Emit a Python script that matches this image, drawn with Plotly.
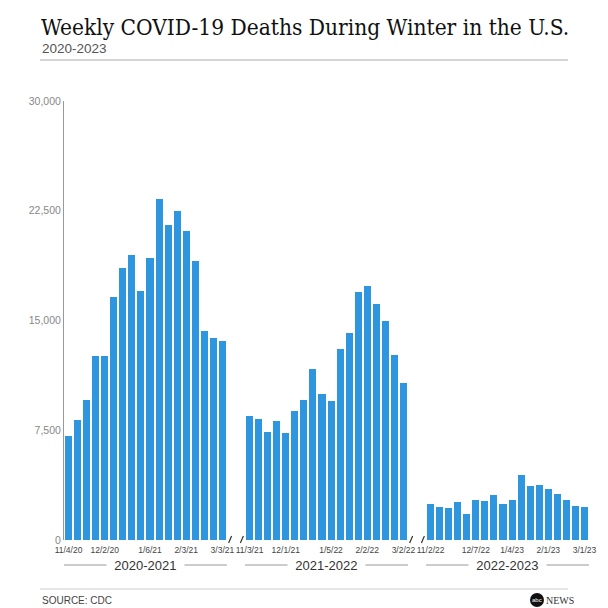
import plotly.graph_objects as go

# ---- data ----
season_names = ["2020-2021", "2021-2022", "2022-2023"]
dates_2020 = ["11/4/20", "11/11/20", "11/18/20", "11/25/20", "12/2/20", "12/9/20", "12/16/20", "12/23/20", "12/30/20",
              "1/6/21", "1/13/21", "1/20/21", "1/27/21", "2/3/21", "2/10/21", "2/17/21", "2/24/21", "3/3/21"]
deaths_2020 = [7100, 8200, 9550, 12550, 12550, 16600, 18600, 19450, 17000,
               19300, 23300, 21500, 22450, 21150, 19100, 14300, 13800, 13600]
dates_2021 = ["11/3/21", "11/10/21", "11/17/21", "11/24/21", "12/1/21", "12/8/21", "12/15/21", "12/22/21", "12/29/21",
              "1/5/22", "1/12/22", "1/19/22", "1/26/22", "2/2/22", "2/9/22", "2/16/22", "2/23/22", "3/2/22"]
deaths_2021 = [8500, 8250, 7400, 8100, 7300, 8850, 9600, 11700, 9980,
               9480, 13080, 14170, 16970, 17340, 16150, 14990, 12650, 10710]
dates_2022 = ["11/2/22", "11/9/22", "11/16/22", "11/23/22", "11/30/22", "12/7/22", "12/14/22", "12/21/22", "12/28/22",
              "1/4/23", "1/11/23", "1/18/23", "1/25/23", "2/1/23", "2/8/23", "2/15/23", "2/22/23", "3/1/23"]
deaths_2022 = [2460, 2280, 2190, 2620, 1780, 2760, 2670, 3050, 2480,
               2760, 4420, 3670, 3740, 3460, 3120, 2760, 2350, 2260]
labeled_dates = ["11/4/20", "12/2/20", "1/6/21", "2/3/21", "3/3/21",
                 "11/3/21", "12/1/21", "1/5/22", "2/2/22", "3/2/22",
                 "11/2/22", "12/7/22", "1/4/23", "2/1/23", "3/1/23"]
y_ticks = [0, 7500, 15000, 22500, 30000]

seasons = [(dates_2020, deaths_2020), (dates_2021, deaths_2021), (dates_2022, deaths_2022)]
GAP = 2  # empty slots between seasons

# ---- layout geometry ----
W, H = 608, 608
ML, MR, MT, MB = 64, 19, 101, 68
PW, PH = W - ML - MR, H - MT - MB

def px(x):
    return (x - ML) / PW

def py(y):
    return (H - MB - y) / PH

BLUE = "#2D96DE"
SANS = "Liberation Sans, Arial, sans-serif"
NB = "\u00a0"

fig = go.Figure()
xs_all, dates_all, vals_all = [], [], []
spans = []
pos = 0
for dates, vals in seasons:
    xs = list(range(pos, pos + len(dates)))
    spans.append((xs[0] - 0.5, xs[-1] + 0.5))
    xs_all += xs
    dates_all += dates
    vals_all += vals
    pos += len(dates) + GAP

fig.add_trace(go.Bar(x=xs_all, y=vals_all, marker=dict(color=BLUE, line=dict(width=0)),
                     width=0.78, customdata=dates_all,
                     hovertemplate="%{customdata}: %{y:,}<extra></extra>"))

tickvals = [xs_all[dates_all.index(d)] for d in labeled_dates]
n_slots = xs_all[-1] + 1
slot_px = PW / n_slots

def slot_to_paper(s):
    return px(ML + (s + 0.5) * slot_px)

shapes = []
annotations = []

# title block
annotations.append(dict(text="Weekly COVID-19 Deaths During Winter in the U.S.", x=px(39), y=py(27),
                        xref="paper", yref="paper", xanchor="left", yanchor="middle", showarrow=False,
                        font=dict(family="DejaVu Serif Condensed, Liberation Serif, serif", size=22.5, color="#111")))
annotations.append(dict(text="2020-2023", x=px(40), y=py(48), xref="paper", yref="paper",
                        xanchor="left", yanchor="middle", showarrow=False,
                        font=dict(family=SANS, size=13.5, color="#555")))
shapes.append(dict(type="line", xref="paper", yref="paper", x0=px(40), x1=px(568), y0=py(60), y1=py(60),
                   line=dict(color="#aaa", width=1)))

# season labels with lines
for (a, b), name in zip(spans, season_names):
    x0 = slot_to_paper(a)
    x1 = slot_to_paper(b)
    shapes.append(dict(type="line", xref="paper", yref="paper", x0=x0, x1=x1, y0=py(565), y1=py(565),
                       line=dict(color="#999", width=1)))
    annotations.append(dict(text=NB * 2 + name + NB * 2, x=(x0 + x1) / 2, y=py(565), xref="paper", yref="paper",
                            xanchor="center", yanchor="middle", showarrow=False, bgcolor="white", borderpad=0,
                            font=dict(family=SANS, size=13, color="#333")))

# axis break marks
for i in range(len(spans) - 1):
    end = spans[i][1]
    start = spans[i + 1][0]
    for edge in (end + 0.35, start - 0.35):
        cx = slot_to_paper(edge)
        shapes.append(dict(type="line", xref="paper", yref="paper",
                           x0=cx - 1.5 / PW, x1=cx + 1.5 / PW, y0=py(543), y1=py(536),
                           line=dict(color="#333", width=1.2)))

# footer
shapes.append(dict(type="line", xref="paper", yref="paper", x0=px(40), x1=px(568), y0=py(589), y1=py(589),
                   line=dict(color="#ccc", width=1)))
annotations.append(dict(text="SOURCE: CDC", x=px(40), y=py(600), xref="paper", yref="paper",
                        xanchor="left", yanchor="middle", showarrow=False,
                        font=dict(family="Liberation Sans Narrow, Liberation Sans, Arial, sans-serif", size=10, color="#444")))
shapes.append(dict(type="circle", xref="paper", yref="paper", x0=px(530), x1=px(544), y0=py(593), y1=py(607),
                   fillcolor="#111", line=dict(width=0)))
annotations.append(dict(text="abc", x=px(537), y=py(600), xref="paper", yref="paper",
                        xanchor="center", yanchor="middle", showarrow=False,
                        font=dict(family=SANS, size=6, color="white")))
annotations.append(dict(text="NEWS", x=px(544), y=py(600), xref="paper", yref="paper",
                        xanchor="left", yanchor="middle", showarrow=False,
                        font=dict(family="Liberation Serif, serif", size=10, color="#333")))

fig.update_layout(
    width=W, height=H, margin=dict(l=ML, r=MR, t=MT, b=MB),
    paper_bgcolor="white", plot_bgcolor="white", showlegend=False,
    bargap=0,
    xaxis=dict(range=[-0.5, n_slots - 0.5], tickvals=tickvals, ticktext=labeled_dates,
               showgrid=False, zeroline=False, showline=False,
               ticks="outside", ticklen=2, tickcolor="rgba(0,0,0,0)",
               tickfont=dict(family=SANS, size=8.5, color="#444"), tickangle=0),
    yaxis=dict(range=[0, 30000], tickvals=y_ticks, ticktext=[f"{v:,}" for v in y_ticks],
               showgrid=False, zeroline=False, showline=True, linecolor="#999", linewidth=1,
               ticks="", tickfont=dict(family=SANS, size=10.5, color="#888")),
    shapes=shapes, annotations=annotations,
)

fig.write_html("out.html", config={"displayModeBar": False},
               post_script="document.body.style.margin='0';document.body.style.padding='0';")
